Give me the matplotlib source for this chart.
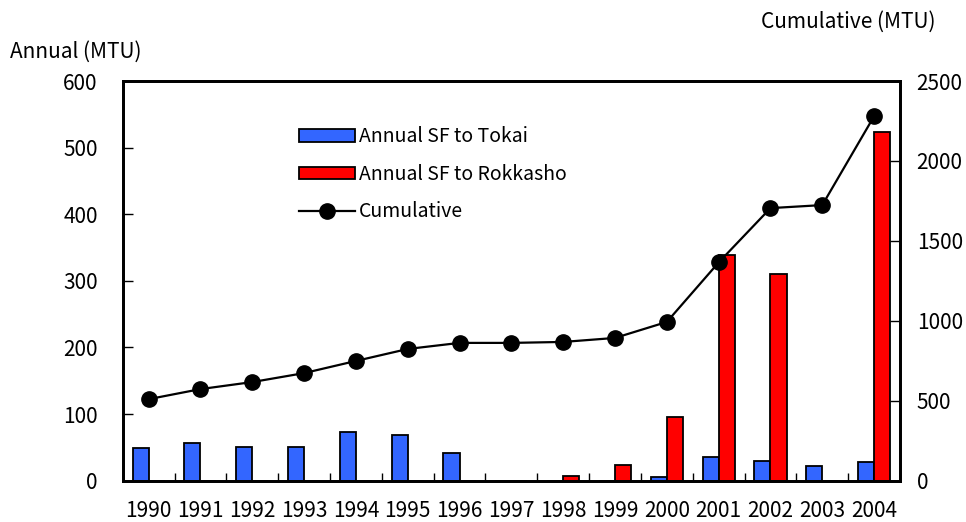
import numpy as np
import matplotlib.pyplot as plt
from matplotlib.patches import Patch
from matplotlib.lines import Line2D

plt.rcParams['font.family'] = ['Noto Sans CJK JP', 'DejaVu Sans']

# Data (MTU)
years = ['1990', '1991', '1992', '1993', '1994', '1995', '1996', '1997',
         '1998', '1999', '2000', '2001', '2002', '2003', '2004']
tokai = [49, 57, 50, 51, 73, 69, 41, 0, 0, 0, 5, 35, 29, 22, 28]
rokkasho = [0, 0, 0, 0, 0, 0, 0, 0, 7, 24, 96, 339, 311, 0, 523]
cumulative = [510, 573, 617, 673, 749, 824, 862, 862, 868, 893, 993,
              1365, 1705, 1724, 2280]

blue = '#3366FF'
red = '#FF0000'

fig = plt.figure(figsize=(9.66, 5.22), dpi=100)
ax = fig.add_axes([0.127, 0.0791, 0.8047, 0.7657])

x = np.arange(len(years))
w = 0.31
ax.bar(x - w / 2, tokai, w, color=blue, edgecolor='black', linewidth=1.3, zorder=2)
ax.bar(x + w / 2, rokkasho, w, color=red, edgecolor='black', linewidth=1.3, zorder=2)

ax.set_xlim(-0.5, len(years) - 0.5)
ax.set_ylim(0, 600)
ax.set_yticks(range(0, 601, 100))
ax.set_xticks(x)
ax.set_xticklabels(years)
ax.set_xticks(np.arange(len(years) + 1) - 0.5, minor=True)
ax.tick_params(axis='x', which='major', length=0, pad=14, labelsize=15)
ax.tick_params(axis='x', which='minor', direction='in', length=6, width=1)
ax.tick_params(axis='y', direction='in', length=7, width=1, pad=18, labelsize=15)
for s in ax.spines.values():
    s.set_linewidth(2)

ax2 = ax.twinx()
ax2.plot(x, cumulative, color='black', linewidth=1.6, marker='o',
         markersize=11, zorder=3)
ax2.set_ylim(0, 2500)
ax2.set_yticks(range(0, 2501, 500))
ax2.tick_params(axis='y', direction='in', length=7, width=1, pad=12, labelsize=15)
for s in ax2.spines.values():
    s.set_linewidth(2)

fig.text(0.01, 0.90, 'Annual (MTU)', fontsize=15, va='center', ha='left')
fig.text(0.968, 0.958, 'Cumulative (MTU)', fontsize=15, va='center', ha='right')

handles = [Patch(facecolor=blue, edgecolor='black', linewidth=1.3),
           Patch(facecolor=red, edgecolor='black', linewidth=1.3),
           Line2D([], [], color='black', linewidth=1.6, marker='o', markersize=11)]
labels = ['Annual SF to Tokai', 'Annual SF to Rokkasho', 'Cumulative']
fig.legend(handles, labels, loc='upper left', bbox_to_anchor=(0.31, 0.758),
           frameon=False, fontsize=14, handlelength=2.85, handleheight=0.6,
           handletextpad=0.2, labelspacing=0.85, borderpad=0, borderaxespad=0)

plt.savefig('out.png')
